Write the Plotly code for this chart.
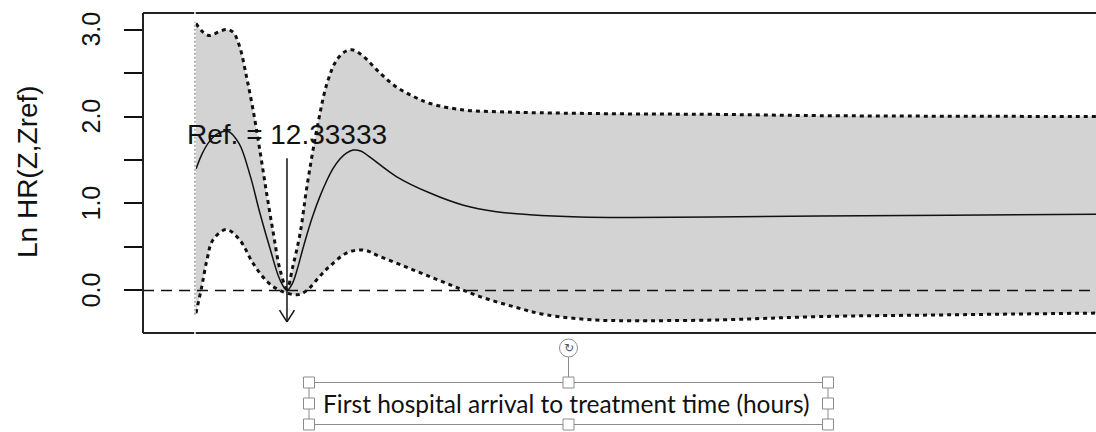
import plotly.graph_objects as go

# ---- data: smoothed log hazard ratio vs. first hospital arrival to treatment time ----
REF_X = 12.33333
REF_LABEL = "Ref. = 12.33333"

fit_x = [0.15, 1.0, 2.0, 3.0, 4.4, 5.9, 7.4, 8.7, 10.1, 11.4, REF_X, 13.0, 13.7,
         14.4, 15.1, 15.8, 16.7, 17.6, 18.5, 19.4, 20.3, 21.2, 22.3, 23.5, 27.0, 31.5,
         36.0, 40.4, 44.9, 51.6, 58.3, 69.4, 83.8, 101.2, 120.8]
fit_y = [1.40, 1.58, 1.72, 1.80, 1.83, 1.69, 1.32, 0.89, 0.47, 0.12, 0.0, 0.07, 0.24,
         0.46, 0.67, 0.86, 1.07, 1.25, 1.40, 1.51, 1.58, 1.615, 1.60, 1.53, 1.31, 1.12,
         0.98, 0.905, 0.87, 0.845, 0.84, 0.845, 0.855, 0.865, 0.875]

upper_x = [0.13, 1.07, 2.0, 3.1, 4.2, 5.1, 6.0, 6.9, 7.8, 8.7, 9.6, 10.5, 11.4, REF_X,
           13.1, 14.1, 15.0, 16.4, 17.7, 19.0, 20.2, 21.2, 22.6, 24.8, 27.0, 29.3, 31.5,
           36.0, 40.4, 44.9, 58.3, 69.4, 83.8, 120.8]
upper_y = [3.07, 2.97, 2.93, 2.97, 3.00, 2.97, 2.80, 2.46, 2.07, 1.61, 1.12, 0.66, 0.24, 0.02,
           0.27, 0.66, 1.19, 1.88, 2.38, 2.65, 2.75, 2.765, 2.69, 2.50, 2.34, 2.23, 2.15,
           2.075, 2.055, 2.045, 2.03, 2.025, 2.01, 2.00]

lower_x = [0.13, 0.9, 1.6, 2.4, 4.2, 6.0, 7.8, 9.7, 11.4, 13.7, 15.0, 16.8, 18.1, 20.3,
           22.6, 24.8, 29.3, 33.7, 38.2, 42.7, 47.1, 53.8, 58.3, 69.4, 83.8, 101.2, 120.8]
lower_y = [-0.26, 0.04, 0.35, 0.58, 0.70, 0.58, 0.31, 0.10, 0.0, -0.05, 0.0, 0.17, 0.28, 0.43,
           0.465, 0.39, 0.235, 0.083, -0.07, -0.186, -0.28, -0.34, -0.347, -0.34, -0.30,
           -0.28, -0.26]

y_tick_vals = [0.0, 0.5, 1.0, 1.5, 2.0, 2.5, 3.0]
y_tick_text = ["0.0", "", "1.0", "", "2.0", "", "3.0"]

X_RANGE = [-6.97, 120.8]
Y_RANGE = [-0.489, 3.19]

# ---- page geometry (pixels) ----
W, H = 1096, 432
ML, MR, MT, MB = 143, 0, 13, 99
PW, PH = W - ML - MR, H - MT - MB


def px(xp):
    return (xp - ML) / PW


def py(yp):
    return (H - MB - yp) / PH


FONT = "Liberation Sans, Arial, sans-serif"
BAND_FILL = "#d3d3d3"
INK = "#111111"

fig = go.Figure()

# confidence band
fig.add_trace(go.Scatter(x=lower_x, y=lower_y, mode="lines", line=dict(width=0, shape="spline"),
                         showlegend=False, hoverinfo="skip"))
fig.add_trace(go.Scatter(x=upper_x, y=upper_y, mode="lines", fill="tonexty", fillcolor=BAND_FILL,
                         line=dict(width=0, shape="spline"), showlegend=False, hoverinfo="skip"))

# band limits (dotted)
for bx, by in ((upper_x, upper_y), (lower_x, lower_y)):
    fig.add_trace(go.Scatter(x=bx, y=by, mode="lines",
                             line=dict(color=INK, width=3, dash="4px,4px", shape="spline", smoothing=1),
                             showlegend=False, hoverinfo="skip"))

# fitted curve
fig.add_trace(go.Scatter(x=fit_x, y=fit_y, mode="lines",
                         line=dict(color=INK, width=1.5, shape="spline", smoothing=1),
                         showlegend=False, hoverinfo="skip"))

shapes = []
# reference line at zero
shapes.append(dict(type="line", xref="paper", yref="y", x0=0, x1=1, y0=0, y1=0,
                   line=dict(color=INK, width=1.5, dash="11px,7px"), layer="above"))
# plot frame (right side runs off the page)
for x0, y0, x1, y1 in ((0, 0, 1.01, 0), (0, 1, 1.01, 1), (0, 0, 0, 1)):
    shapes.append(dict(type="line", xref="paper", yref="paper", x0=x0, y0=y0, x1=x1, y1=y1,
                       line=dict(color="#222222", width=2), layer="above"))
# start of data marker
x_min = fit_x[0] - 0.15
shapes.append(dict(type="line", xref="x", yref="paper", x0=x_min, x1=x_min, y0=-0.01, y1=1.01,
                   line=dict(color="white", width=1.5), layer="above"))
shapes.append(dict(type="line", xref="x", yref="y", x0=x_min, x1=x_min, y0=lower_y[0] - 0.02,
                   y1=upper_y[0] + 0.02, line=dict(color="#9a9a9a", width=1.5, dash="2px,2px"),
                   layer="above"))
# arrow pointing at the reference value
arrow_top, arrow_tip = 1.52, -0.36
shapes.append(dict(type="line", xref="x", yref="y", x0=REF_X, x1=REF_X, y0=arrow_top, y1=arrow_tip,
                   line=dict(color=INK, width=1.5), layer="above"))
for side in (-1, 1):
    shapes.append(dict(type="line", xref="x", yref="y", x0=REF_X + side * 1.0, y0=arrow_tip + 0.135,
                       x1=REF_X, y1=arrow_tip, line=dict(color=INK, width=1.5), layer="above"))

# selected text box around the x-axis title
BOX_L, BOX_R, BOX_T, BOX_B = 309, 828, 382.5, 424.5
BOX_MX, BOX_MY = (BOX_L + BOX_R) / 2, (BOX_T + BOX_B) / 2
EDGE = "#8c8c8c"
for x0, y0, x1, y1 in ((BOX_L, BOX_T, BOX_R, BOX_T), (BOX_L, BOX_B, BOX_R, BOX_B),
                       (BOX_L, BOX_T, BOX_L, BOX_B), (BOX_R, BOX_T, BOX_R, BOX_B),
                       (BOX_MX, 357, BOX_MX, BOX_T)):
    shapes.append(dict(type="line", xref="paper", yref="paper", x0=px(x0), y0=py(y0),
                       x1=px(x1), y1=py(y1), line=dict(color=EDGE, width=1)))
HS = 5.5
for hx, hy in ((BOX_L, BOX_T), (BOX_MX, BOX_T), (BOX_R, BOX_T), (BOX_L, BOX_MY),
               (BOX_R, BOX_MY), (BOX_L, BOX_B), (BOX_MX, BOX_B), (BOX_R, BOX_B)):
    shapes.append(dict(type="rect", xref="paper", yref="paper", x0=px(hx - HS), x1=px(hx + HS),
                       y0=py(hy - HS), y1=py(hy + HS), fillcolor="white",
                       line=dict(color=EDGE, width=1)))
shapes.append(dict(type="circle", xref="paper", yref="paper", x0=px(BOX_MX - 9), x1=px(BOX_MX + 9),
                   y0=py(339), y1=py(357), fillcolor="white", line=dict(color=EDGE, width=1)))

annotations = [
    dict(text=REF_LABEL, x=REF_X, y=1.79, xref="x", yref="y", showarrow=False,
         font=dict(family=FONT, size=28, color=INK), xanchor="center", yanchor="middle"),
    dict(text="Ln HR(Z,Zref)", x=px(27), y=py(172), xref="paper", yref="paper", showarrow=False,
         textangle=-90, font=dict(family=FONT, size=28, color=INK), xanchor="center", yanchor="middle"),
    dict(text="First hospital arrival to treatment time (hours)", x=px(566), y=py(403),
         xref="paper", yref="paper", showarrow=False,
         font=dict(family="Lato, Carlito, sans-serif", size=24.5, color="#111111"),
         xanchor="center", yanchor="middle"),
    dict(text="↻", x=px(BOX_MX), y=py(348), xref="paper", yref="paper", showarrow=False,
         font=dict(family="DejaVu Sans", size=12, color="#555555"), xanchor="center", yanchor="middle"),
]
# y tick labels, rotated
for v, t in zip(y_tick_vals, y_tick_text):
    if t:
        annotations.append(dict(text=t, x=px(91), y=v, xref="paper", yref="y", showarrow=False,
                                textangle=-90, font=dict(family=FONT, size=25, color=INK),
                                xanchor="center", yanchor="middle"))

fig.update_layout(
    width=W, height=H,
    margin=dict(l=ML, r=MR, t=MT, b=MB, pad=0),
    paper_bgcolor="white", plot_bgcolor="white",
    showlegend=False,
    xaxis=dict(range=X_RANGE, showticklabels=False, showgrid=False, zeroline=False,
               showline=False, ticks=""),
    yaxis=dict(range=Y_RANGE, tickvals=y_tick_vals, ticktext=[""] * len(y_tick_vals),
               ticks="outside", ticklen=18, tickwidth=1.5, tickcolor=INK,
               showgrid=False, zeroline=False, showline=False),
    shapes=shapes,
    annotations=annotations,
)

fig.write_html("out.html")
